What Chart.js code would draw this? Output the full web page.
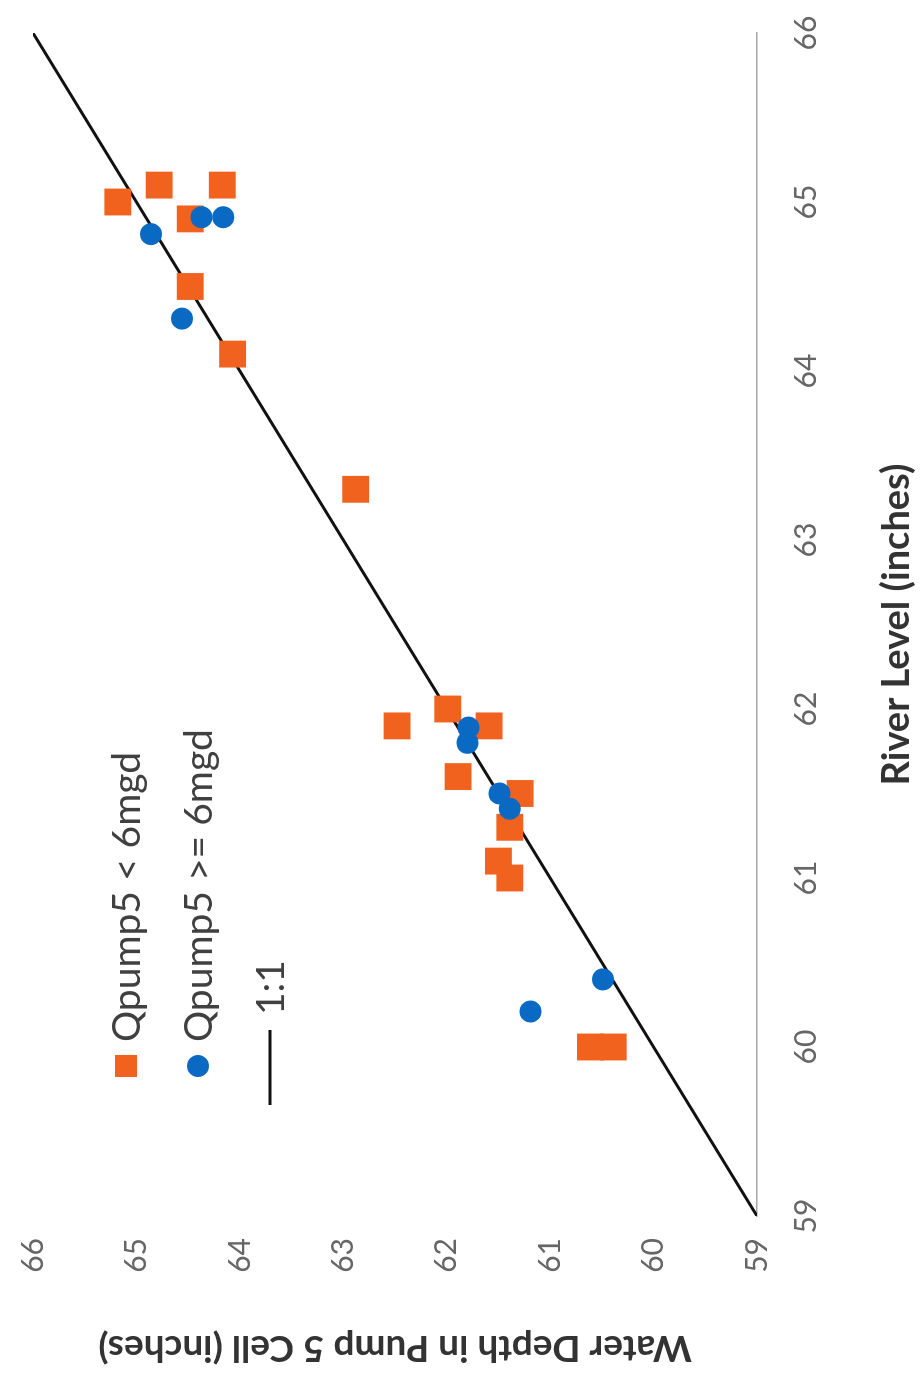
<!DOCTYPE html>
<html>
<head>
<meta charset="utf-8">
<script src="https://cdn.jsdelivr.net/npm/chart.js@4.4.1/dist/chart.umd.min.js"></script>
<style>
  html, body { margin: 0; padding: 0; background: #fff; overflow: hidden; }
  #wrap {
    position: absolute; left: 0; top: 0;
    width: 1384px; height: 923px;
    transform-origin: 0 0;
    transform: translate(0, 1384px) rotate(-90deg);
  }
</style>
</head>
<body>
<div id="wrap"><canvas id="myChart" width="1384" height="923"></canvas></div>
<script>
const lowFlowRiver = [65.0, 65.1, 65.1, 64.9, 64.5, 64.1, 63.3, 61.9, 62.0, 61.9, 61.6, 61.5, 61.3, 61.1, 61.0, 60.0, 60.0];
const lowFlowDepth = [65.18, 64.78, 64.17, 64.48, 64.48, 64.07, 62.88, 62.48, 61.99, 61.59, 61.89, 61.29, 61.39, 61.5, 61.39, 60.61, 60.39];
const highFlowRiver = [64.81, 64.91, 64.91, 64.31, 61.89, 61.8, 61.5, 61.41, 60.4, 60.21];
const highFlowDepth = [64.86, 64.37, 64.16, 64.56, 61.79, 61.8, 61.49, 61.39, 60.49, 61.19];
const oneToOne = [59, 66];
const axisTicks = [59, 60, 61, 62, 63, 64, 65, 66];

const labels = ['Qpump5 < 6mgd', 'Qpump5 >= 6mgd', '1:1'];
const orange = '#F0621E';
const blue = '#0A69C3';

const toPoints = (xs, ys) => xs.map((x, i) => ({ x: x, y: ys[i] }));

// legend drawn inside the plot, like the excel one
const insideLegend = {
    id: 'insideLegend',
    afterDraw(chart) {
        const ctx = chart.ctx;
        const area = chart.chartArea;
        const x0 = area.left + 150;
        const y0 = area.top + 93;
        const rowGap = 72;
        ctx.save();
        ctx.font = '39px Lato';
        ctx.textBaseline = 'middle';
        ctx.fillStyle = '#404040';
        chart.data.datasets.forEach((ds, i) => {
            const y = y0 + i * rowGap;
            if (ds.showLine) {
                ctx.strokeStyle = ds.borderColor;
                ctx.lineWidth = ds.borderWidth;
                ctx.beginPath();
                ctx.moveTo(x0 - 39, y);
                ctx.lineTo(x0 + 36, y);
                ctx.stroke();
                ctx.fillStyle = '#404040';
                ctx.fillText(ds.label, x0 + 51, y + 1);
            } else {
                ctx.fillStyle = ds.pointBackgroundColor;
                if (ds.pointStyle === 'rect') {
                    ctx.fillRect(x0 - 11, y - 11, 22, 22);
                } else {
                    ctx.beginPath();
                    ctx.arc(x0, y, 11, 0, Math.PI * 2);
                    ctx.fill();
                }
                ctx.fillStyle = '#404040';
                ctx.fillText(ds.label, x0 + 24, y + 1);
            }
        });
        ctx.restore();
    }
};

const ctx = document.getElementById('myChart').getContext('2d');
new Chart(ctx, {
    type: 'scatter',
    data: {
        datasets: [
            {
                label: labels[0],
                data: toPoints(lowFlowRiver, lowFlowDepth),
                pointStyle: 'rect',
                pointRadius: 19,
                pointBackgroundColor: orange,
                pointBorderColor: orange,
                pointBorderWidth: 0,
                order: 2
            },
            {
                label: labels[1],
                data: toPoints(highFlowRiver, highFlowDepth),
                pointStyle: 'circle',
                pointRadius: 11,
                pointBackgroundColor: blue,
                pointBorderColor: blue,
                pointBorderWidth: 0,
                order: 1
            },
            {
                label: labels[2],
                data: toPoints(oneToOne, oneToOne),
                showLine: true,
                borderColor: '#111111',
                borderWidth: 3,
                pointRadius: 0,
                order: 3
            }
        ]
    },
    options: {
        responsive: false,
        animation: false,
        layout: { autoPadding: false, padding: { left: 0, right: 33, top: 33, bottom: 0 } },
        plugins: {
            legend: { display: false },
            tooltip: { enabled: false }
        },
        scales: {
            x: {
                min: axisTicks[0],
                max: axisTicks[axisTicks.length - 1],
                afterBuildTicks: (scale) => { scale.ticks = axisTicks.map(v => ({ value: v })); },
                afterFit: (scale) => {
                    scale.height = 166;
                    scale.paddingLeft = 0;
                    scale.paddingRight = 0;
                },
                grid: { display: false, drawTicks: false },
                border: { display: true, color: '#a6a6a6', width: 1.5 },
                ticks: { padding: 31, color: '#666666', font: { family: 'Lato', size: 30 } },
                title: {
                    display: true,
                    text: 'River Level (inches)',
                    color: '#333333',
                    font: { family: 'Lato', size: 38, weight: 'bold' },
                    padding: { top: 0, bottom: 3 }
                }
            },
            y: {
                min: axisTicks[0],
                max: axisTicks[axisTicks.length - 1],
                afterBuildTicks: (scale) => { scale.ticks = axisTicks.map(v => ({ value: v })); },
                afterFit: (scale) => {
                    scale.width = 168;
                    scale.paddingTop = 0;
                    scale.paddingBottom = 0;
                },
                grid: { display: false, drawTicks: false },
                border: { display: false },
                ticks: { padding: 22, color: '#666666', font: { family: 'Lato', size: 30 } },
                title: {
                    display: true,
                    text: 'Water Depth in Pump 5 Cell (inches)',
                    color: '#333333',
                    font: { family: 'Lato', size: 37, weight: 'bold' },
                    padding: { top: 14, bottom: 0 }
                }
            }
        }
    },
    plugins: [insideLegend]
});
</script>
</body>
</html>
